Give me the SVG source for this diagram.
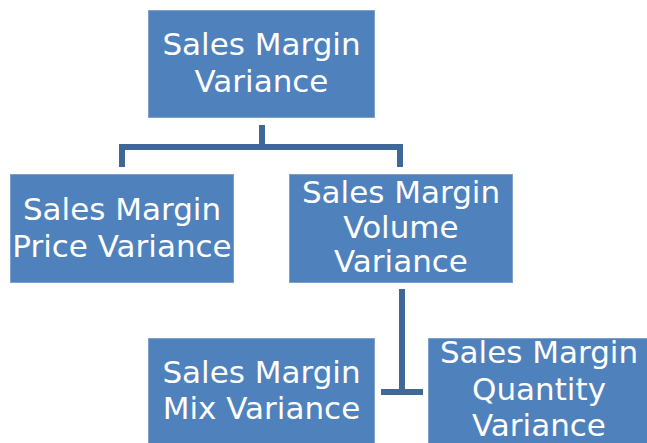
<svg xmlns="http://www.w3.org/2000/svg" width="647" height="443" viewBox="0 0 647 443">
<style>
.box{fill:#4F81BD;stroke:#7E9FCB;stroke-width:1}
.t{font-family:"DejaVu Sans","Verdana",sans-serif;font-size:31px;fill:#FFFFFF;text-anchor:middle}
.c{fill:none;stroke:#3F6797;stroke-width:6}
</style>
<rect width="647" height="443" fill="#FFFFFF"/>
<g id="connectors">
<path class="c" d="M262,125 V147 M122,167 V147 H400 V167"/>
<path class="c" d="M402,289 V392 M381,392 H423"/>
</g>
<g id="n1"><rect class="box" x="148.5" y="10.5" width="226" height="107"/>
<text class="t" x="261.5" y="55">Sales Margin</text><text class="t" x="261.5" y="92">Variance</text></g>
<g id="n2"><rect class="box" x="10.5" y="174.5" width="223" height="108"/>
<text class="t" x="122" y="220">Sales Margin</text><text class="t" x="122" y="257">Price Variance</text></g>
<g id="n3"><rect class="box" x="289.5" y="174.5" width="223" height="108"/>
<text class="t" x="401" y="203">Sales Margin</text><text class="t" x="401" y="238">Volume</text><text class="t" x="401" y="272">Variance</text></g>
<g id="n4"><rect class="box" x="148.5" y="338.5" width="226" height="110"/>
<text class="t" x="261.5" y="383">Sales Margin</text><text class="t" x="261.5" y="419">Mix Variance</text></g>
<g id="n5"><rect class="box" x="428.5" y="338.5" width="225" height="110"/>
<text class="t" x="539" y="363">Sales Margin</text><text class="t" x="539" y="400">Quantity</text><text class="t" x="539" y="436">Variance</text></g>
</svg>
